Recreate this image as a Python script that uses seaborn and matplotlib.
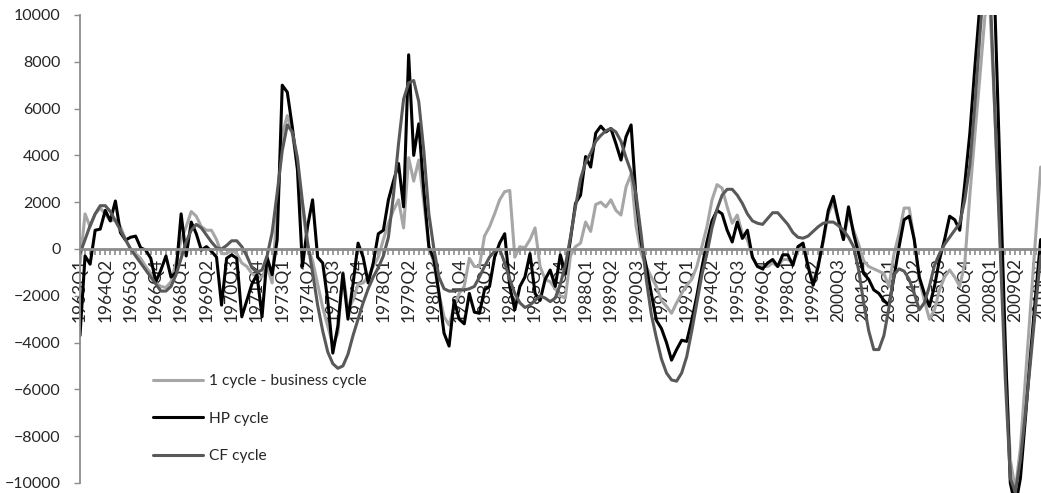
import numpy as np
import pandas as pd
import seaborn as sns
import matplotlib.pyplot as plt

# quarterly categories, 1963Q1 .. 2010Q3
quarters = [f"{y}Q{q}" for y in range(1963, 2011) for q in range(1, 5)][:191]

business_cycle = [
    -600, 1500, 950, 1500, 1750, 1500, 1200, 1250, 950, 400,
    0, -200, -400, -750, -1050, -1450, -1600, -1650, -1400, -600,
    400, 950, 1600, 1400, 950, 800, 800, 400, -200, -200,
    -50, -200, -600, -750, -1050, -1200, -1200, -750, -1450, 1800,
    4900, 5700, 4900, 3500, 1800, 100, -500, -1500, -2500, -3300,
    -4100, -3600, -1000, -2600, -2200, -1500, -1450, -1200, -750, -350,
    400, 1100, 1650, 2100, 900, 3900, 2900, 3800, 2000, 100,
    -600, -1900, -2900, -3250, -2450, -1900, -1600, -400, -750, -750,
    550, 950, 1500, 2100, 2450, 2500, -350, 100, 50, 400,
    900, -750, -1300, -1400, -1700, -2000, -2100, -300, 100, 250,
    1150, 750, 1900, 2000, 1800, 2100, 1650, 1450, 2650, 3200,
    950, -200, -750, -1200, -1600, -2200, -2450, -2750, -2300, -1900,
    -1550, -1300, -750, 100, 950, 2100, 2750, 2600, 1800, 1100,
    1450, 650, 400, -350, -750, -750, -750, -600, -750, -450,
    -450, -600, -100, 200, -700, -1450, -700, 300, 1500, 2000,
    1200, 400, 1500, 800, 200, -500, -750, -850, -950, -1050,
    -1600, -200, 650, 1750, 1750, 400, -1300, -2200, -3000, -2600,
    -1750, -1200, -900, -1200, -1600, -600, 2300, 4900, 7400, 10000,
    10200, 5500, 500, -4500, -9000, -10300, -8500, -5500, -2500, 500,
    3500,
]

hp_cycle = [
    -3700, -300, -650, 800, 850, 1650, 1200, 2050, 700, 380,
    500, 550, 50, -50, -400, -1400, -900, -300, -1200, -1000,
    1500, -300, 1150, 650, -50, 100, -100, -350, -2400, -400,
    -250, -400, -2900, -2200, -1500, -1100, -2900, -350, -1100, 400,
    7000, 6700, 5200, 3400, -750, 950, 2100, -350, -600, -2200,
    -4450, -3300, -1050, -3000, -1500, 250, -350, -1450, -600, 650,
    800, 2100, 2900, 3650, 1800, 8300, 4000, 5350, 2500, 100,
    -450, -1900, -3600, -4150, -2200, -3000, -3200, -1900, -2700, -2750,
    -1750, -1600, -350, 250, 650, -1600, -2600, -1600, -1200, -200,
    -1900, -2200, -1300, -900, -1600, -250, -1050, 400, 1950, 2300,
    3950, 3500, 4950, 5250, 5000, 5150, 4500, 3800, 4800, 5300,
    2100, 250, -750, -1900, -3050, -3400, -4000, -4750, -4300, -3900,
    -3950, -3050, -2000, -800, 300, 1200, 1650, 1500, 800, 300,
    1150, 450, 800, -350, -750, -850, -600, -450, -750, -250,
    -250, -700, 100, 250, -750, -1550, -750, 400, 1650, 2250,
    1250, 400, 1800, 650, -200, -1050, -1300, -1750, -1900, -2200,
    -2400, -1200, 100, 1250, 1400, 400, -1200, -1900, -2450, -1600,
    -450, 400, 1400, 1250, 800, 2800, 4950, 7800, 10500, 12800,
    13500, 10000, 3000, -4000, -10000, -11000, -9800, -7200, -4500, -2000,
    400,
]

cf_cycle = [
    -200, 400, 1000, 1500, 1850, 1850, 1600, 1200, 800, 400,
    0, -300, -600, -900, -1200, -1500, -1800, -1800, -1600, -1100,
    -400, 300, 800, 1050, 900, 600, 300, 50, 0, 150,
    350, 350, 100, -300, -800, -1000, -900, -300, 700, 2400,
    4200, 5300, 5000, 3900, 2000, 300, -1000, -2400, -3500, -4400,
    -4900, -5100, -5000, -4500, -3700, -3000, -2300, -1700, -1200, -800,
    -300, 500, 2300, 4500, 6400, 7100, 7200, 6300, 4200, 1500,
    0, -1200, -1700, -1800, -1800, -1750, -1750, -1700, -1600, -1200,
    -750, -350, -100, 0, -600, -1300, -1900, -2300, -2500, -2400,
    -2200, -2000, -2100, -2250, -2100, -1500, -700, 500, 1800, 3000,
    3700, 4100, 4600, 4850, 5050, 5150, 5000, 4600, 3900, 3300,
    2300, 600, -1300, -2800, -3800, -4700, -5300, -5600, -5650, -5300,
    -4600, -3500, -2300, -1100, -200, 900, 1700, 2300, 2550, 2550,
    2300, 1950, 1500, 1200, 1100, 1050, 1300, 1550, 1550, 1300,
    1050, 700, 500, 460, 550, 750, 950, 1100, 1150, 1150,
    1000, 800, 500, 100, -900, -2300, -3500, -4300, -4300, -3700,
    -2500, -1100, -850, -950, -1300, -1900, -2600, -2300, -1600, -700,
    -200, 200, 500, 800, 1100, 2100, 3600, 6200, 9200, 12000,
    11100, 5500, 0, -5500, -9800, -10400, -9000, -7000, -4800, -2500,
    -300,
]

series_names = ["1 cycle - business cycle", "HP cycle", "CF cycle"]
colors = ["#a6a6a6", "#000000", "#595959"]

df = pd.concat([
    pd.DataFrame({"t": np.arange(len(v)), "value": v, "series": name})
    for name, v in zip(series_names, [business_cycle, hp_cycle, cf_cycle])
])

sns.set_style("white")
plt.rcParams["font.family"] = ["Lato", "DejaVu Sans"]

W, H = 1041, 493
fig = plt.figure(figsize=(W / 100, H / 100), dpi=100)
ax = fig.add_axes([80 / W, 0, 961 / W, 478 / H])

sns.lineplot(data=df, x="t", y="value", hue="series", hue_order=series_names,
             palette=colors, linewidth=2.2, ax=ax)

ax.set_xlim(0, 961 / 5.056)
ax.set_ylim(-10430, 10000)
ax.set_yticks(np.arange(-10000, 10001, 2000))
ax.set_xticks(np.arange(0, len(quarters), 5))
ax.set_xticklabels(quarters[::5])
ax.set_xticks(np.arange(0, len(quarters)), minor=True)
ax.set_xlabel("")
ax.set_ylabel("")

axis_gray = "#8c8c8c"
for side in ["top", "right"]:
    ax.spines[side].set_visible(False)
ax.spines["left"].set_color(axis_gray)
ax.spines["left"].set_linewidth(1.3)
ax.spines["left"].set_bounds(-10000, 10000)
ax.spines["bottom"].set_position(("data", 0))
ax.spines["bottom"].set_color(axis_gray)
ax.spines["bottom"].set_linewidth(2)

ax.tick_params(axis="y", which="major", left=True, direction="out", length=4,
               width=1, color=axis_gray, pad=10, labelsize=11.5)
ax.tick_params(axis="x", which="both", bottom=True, direction="out",
               length=4.5, width=1.2, color=axis_gray, pad=2)
ax.tick_params(axis="x", which="major", labelsize=12.5, labelrotation=90)

sns.move_legend(ax, loc="upper left", bbox_to_anchor=(153 / W, 0.241),
                bbox_transform=fig.transFigure, frameon=False, title=None,
                fontsize=11.2, handlelength=3.2, handletextpad=0.4,
                labelspacing=1.52, borderpad=0, borderaxespad=0)

fig.savefig("out.png", dpi=100)
